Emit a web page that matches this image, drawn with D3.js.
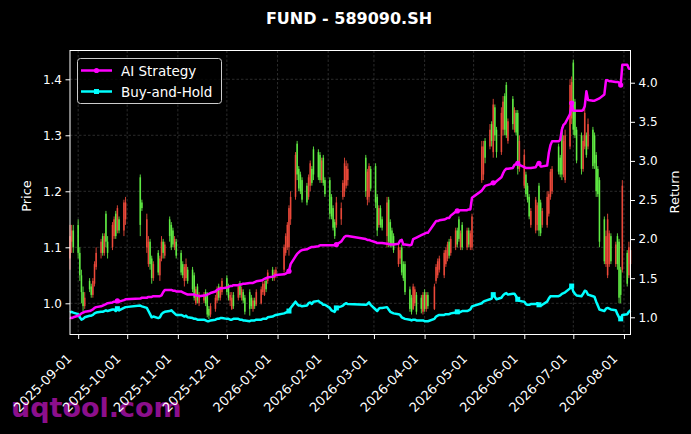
<!DOCTYPE html>
<html><head><meta charset="utf-8">
<script src="https://cdn.jsdelivr.net/npm/d3@7"></script>
<style>html,body{margin:0;padding:0;background:#000;}svg{display:block;}</style>
</head><body>
<svg id="chart" width="691" height="434"></svg>
<script>
// ---------- DATA ----------
const startDate = "2025-08-27";
const endDate = "2026-08-05";
const holidays = ["2025-10-01","2025-10-02","2025-10-03","2025-10-06","2025-10-07","2025-10-08",
  "2026-01-01","2026-01-02","2026-02-16","2026-02-17","2026-02-18","2026-02-19","2026-02-20","2026-02-23",
  "2026-04-06","2026-05-01","2026-05-04","2026-05-05","2026-06-19"];

const open = [
 1.08,1.11,1.13,
 1.14,1.09,1.05,1.02,0.995,1.04,1.03,1.015,1.035,1.065,1.09,1.12,1.09,1.16,1.11,1.10,1.12,1.16,1.13,1.15,1.13,1.15,
 1.225,1.18,1.10,1.07,1.11,1.08,1.045,1.09,1.05,1.08,1.11,1.085,1.15,1.14,1.13,1.10,1.11,
 1.09,1.07,1.04,1.045,1.06,1.06,1.05,1.00,1.03,1.00,1.005,1.02,1.015,0.99,0.98,0.99,1.005,1.03,1.01,1.02,
 1.045,1.03,1.005,0.99,1.015,1.01,1.035,1.01,1.02,1.01,1.02,1.01,0.99,1.005,0.998,1.00,1.02,1.015,1.04,1.04,1.06,1.045,1.05,
 1.06,1.09,1.10,1.10,1.15,1.19,1.285,1.24,1.23,1.22,1.21,1.19,1.21,1.24,1.275,1.27,1.265,1.22,1.26,1.22,
 1.22,1.19,1.17,1.145,1.14,1.15,1.19,1.20,1.21,1.22,1.26,1.185,1.19,1.24,
 1.245,1.19,1.14,1.17,1.15,1.12,1.185,1.145,1.13,1.12,1.07,1.08,1.10,1.07,1.07,1.025,1.01,0.99,1.00,1.015,1.01,0.985,
 1.02,0.99,1.015,0.99,1.04,1.05,1.06,1.05,1.07,1.08,1.11,1.09,1.10,1.13,1.15,1.10,1.14,1.10,1.13,1.10,1.10,
 1.22,1.23,1.29,1.28,1.32,1.27,1.35,1.31,1.27,1.31,1.37,1.39,1.29,1.365,1.31,1.34,1.34,1.24,
 1.21,1.23,1.21,1.19,1.14,1.13,1.14,1.21,1.18,1.14,1.14,1.16,1.19,1.20,1.28,1.26,1.31,1.23,1.22,1.28,1.33,
 1.43,1.36,1.31,1.30,1.24,1.28,1.30,1.28,1.31,1.30,1.265,1.24,1.22,1.15,1.07,1.05,1.07,1.12,1.07,1.12,1.11,1.06,1.06,
 1.09,1.05,1.07];
const high = [
 1.14,1.14,1.14,
 1.15,1.10,1.06,1.03,1.02,1.045,1.035,1.045,1.075,1.10,1.115,1.125,1.125,1.165,1.12,1.145,1.155,1.165,1.175,1.155,1.185,1.19,
 1.23,1.185,1.16,1.12,1.115,1.085,1.075,1.095,1.085,1.12,1.115,1.11,1.155,1.145,1.135,1.12,1.115,
 1.095,1.075,1.07,1.08,1.065,1.065,1.055,1.03,1.035,1.02,1.02,1.025,1.02,0.995,1.00,1.015,1.03,1.035,1.03,1.045,
 1.05,1.035,1.02,1.02,1.02,1.035,1.04,1.03,1.025,1.015,1.025,1.015,1.01,1.01,1.025,1.03,1.04,1.04,1.045,1.06,1.065,1.06,1.065,
 1.105,1.125,1.145,1.175,1.20,1.27,1.29,1.245,1.235,1.225,1.215,1.23,1.255,1.245,1.28,1.275,1.27,1.26,1.265,1.225,
 1.225,1.195,1.175,1.15,1.19,1.18,1.22,1.26,1.255,1.25,1.265,1.24,1.25,1.245,
 1.25,1.195,1.175,1.175,1.155,1.19,1.19,1.15,1.135,1.125,1.105,1.10,1.105,1.075,1.075,1.03,1.015,1.035,1.03,1.02,1.015,1.02,
 1.025,1.02,1.02,1.035,1.07,1.08,1.085,1.095,1.10,1.11,1.115,1.12,1.135,1.135,1.155,1.13,1.145,1.135,1.135,1.13,1.16,
 1.29,1.29,1.295,1.32,1.325,1.365,1.355,1.315,1.35,1.37,1.375,1.395,1.33,1.37,1.35,1.345,1.345,1.30,
 1.275,1.235,1.215,1.195,1.17,1.19,1.18,1.215,1.185,1.17,1.20,1.20,1.24,1.245,1.285,1.265,1.315,1.30,1.31,1.40,1.405,
 1.435,1.365,1.315,1.305,1.30,1.35,1.305,1.33,1.315,1.305,1.27,1.245,1.225,1.155,1.13,1.16,1.13,1.125,1.11,1.125,1.115,1.065,1.22,
 1.095,1.11,1.11];
const low = [
 1.06,1.09,1.09,
 1.08,1.04,1.00,0.985,0.99,1.02,1.01,1.01,1.03,1.06,1.08,1.085,1.085,1.10,1.08,1.095,1.115,1.115,1.125,1.125,1.12,1.14,
 1.12,1.165,1.09,1.065,1.06,1.035,1.04,1.05,1.04,1.075,1.08,1.08,1.11,1.095,1.10,1.095,1.08,
 1.05,1.045,1.03,1.04,1.035,1.02,1.005,0.997,1.00,0.995,1.00,0.995,0.975,0.972,0.975,0.985,1.00,1.005,1.005,1.015,
 1.015,1.005,0.995,0.988,0.99,1.005,1.01,1.005,1.00,0.98,0.978,0.99,0.985,0.99,0.995,0.998,1.015,1.013,1.02,1.035,1.04,1.04,1.045,
 1.055,1.085,1.095,1.085,1.14,1.185,1.22,1.20,1.195,1.18,1.175,1.185,1.20,1.21,1.22,1.22,1.215,1.215,1.21,1.19,
 1.15,1.15,1.13,1.115,1.135,1.14,1.185,1.19,1.205,1.21,1.19,1.175,1.18,1.20,
 1.17,1.12,1.135,1.135,1.13,1.10,1.10,1.10,1.10,1.09,1.065,1.07,1.05,1.04,1.015,0.985,0.98,0.988,0.995,0.98,0.982,0.98,
 0.985,0.985,0.99,0.988,1.035,1.045,1.055,1.045,1.065,1.075,1.08,1.085,1.095,1.10,1.11,1.095,1.095,1.095,1.10,1.095,1.095,
 1.215,1.22,1.25,1.275,1.28,1.26,1.29,1.26,1.265,1.30,1.30,1.295,1.285,1.31,1.305,1.30,1.23,1.235,
 1.205,1.19,1.18,1.15,1.135,1.125,1.13,1.12,1.12,1.135,1.135,1.155,1.185,1.195,1.23,1.225,1.22,1.225,1.215,1.275,1.32,
 1.30,1.295,1.25,1.23,1.235,1.275,1.26,1.275,1.24,1.24,1.19,1.19,1.10,1.07,1.065,1.045,1.065,1.07,1.065,1.06,1.00,1.00,1.055,
 1.03,1.045,1.065];
const close = [
 1.12,1.13,1.10,
 1.09,1.05,1.02,0.995,1.01,1.025,1.015,1.04,1.07,1.09,1.11,1.09,1.12,1.11,1.09,1.14,1.15,1.12,1.17,1.13,1.18,1.18,
 1.14,1.17,1.15,1.11,1.07,1.045,1.07,1.055,1.08,1.11,1.09,1.105,1.12,1.10,1.105,1.115,1.085,
 1.055,1.05,1.065,1.07,1.04,1.025,1.01,1.025,1.005,1.015,1.015,1.00,0.98,0.978,0.995,1.01,1.025,1.01,1.025,1.04,
 1.02,1.01,1.015,1.01,0.995,1.03,1.015,1.025,1.005,0.985,0.99,0.995,1.005,0.995,1.02,1.025,1.035,1.035,1.025,1.055,1.045,1.055,1.06,
 1.10,1.12,1.14,1.17,1.19,1.265,1.23,1.205,1.20,1.185,1.18,1.225,1.25,1.215,1.23,1.225,1.22,1.255,1.215,1.195,
 1.16,1.155,1.135,1.12,1.18,1.17,1.215,1.25,1.245,1.24,1.20,1.235,1.245,1.205,
 1.18,1.13,1.17,1.14,1.135,1.18,1.11,1.105,1.105,1.095,1.10,1.095,1.055,1.045,1.02,0.99,0.985,1.03,1.025,0.985,0.99,1.015,
 0.99,1.015,0.995,1.03,1.065,1.075,1.08,1.09,1.095,1.105,1.085,1.115,1.13,1.105,1.115,1.125,1.10,1.13,1.105,1.125,1.155,
 1.28,1.28,1.26,1.31,1.29,1.355,1.30,1.27,1.34,1.36,1.31,1.30,1.325,1.32,1.345,1.305,1.24,1.29,
 1.265,1.195,1.185,1.155,1.165,1.185,1.175,1.13,1.125,1.165,1.19,1.195,1.235,1.24,1.235,1.23,1.23,1.29,1.30,1.39,1.395,
 1.31,1.30,1.255,1.24,1.29,1.34,1.265,1.32,1.245,1.25,1.20,1.195,1.11,1.075,1.12,1.15,1.125,1.075,1.105,1.07,1.01,1.015,1.21,
 1.035,1.10,1.095];
const aiStrategy = [
 1.00,0.99,1.00,
 1.02,1.03,1.05,1.06,1.07,1.08,1.09,1.10,1.12,1.13,1.14,1.15,1.16,1.17,1.18,1.19,1.20,1.20,1.21,1.20,1.22,1.23,
 1.24,1.25,1.25,1.26,1.26,1.26,1.27,1.27,1.27,1.28,1.32,1.35,1.35,1.35,1.34,1.34,1.33,
 1.33,1.32,1.31,1.30,1.29,1.29,1.29,1.28,1.28,1.27,1.28,1.28,1.29,1.30,1.31,1.33,1.35,1.36,1.37,1.37,
 1.38,1.39,1.40,1.40,1.41,1.41,1.42,1.42,1.43,1.43,1.44,1.44,1.44,1.45,1.46,1.47,1.48,1.49,1.50,1.51,1.52,1.53,1.54,
 1.55,1.56,1.57,1.59,1.68,1.78,1.81,1.83,1.85,1.86,1.87,1.88,1.89,1.90,1.90,1.91,1.92,1.92,1.92,1.92,
 1.92,1.92,1.92,1.92,1.93,1.97,2.00,2.03,2.04,2.04,2.00,1.99,1.99,1.98,
 1.96,1.95,1.95,1.95,1.95,1.94,1.94,1.93,1.93,1.93,1.94,1.98,1.99,1.93,1.93,1.92,1.93,2.00,2.01,2.02,2.05,2.06,
 2.07,2.08,2.08,2.20,2.23,2.23,2.24,2.25,2.26,2.27,2.27,2.30,2.35,2.36,2.36,2.37,2.37,2.37,2.38,2.38,2.53,
 2.62,2.65,2.68,2.70,2.71,2.72,2.72,2.74,2.79,2.84,2.88,2.90,2.90,2.91,2.95,2.96,2.97,2.95,
 2.92,2.91,2.91,2.91,2.91,2.92,2.96,2.97,2.93,2.93,2.94,3.10,3.20,3.25,3.25,3.27,3.40,3.46,3.48,3.60,3.74,
 3.64,3.64,3.64,3.64,3.65,3.70,3.89,3.78,3.77,3.77,3.78,3.79,3.80,3.85,4.03,4.03,4.02,4.02,4.01,4.01,4.00,3.97,4.23,
 4.23,4.18,4.18];
const buyHold = [
 1.06,1.07,1.06,
 1.04,1.00,0.97,0.98,1.00,1.02,1.02,1.03,1.05,1.06,1.07,1.07,1.08,1.09,1.08,1.10,1.10,1.08,1.11,1.09,1.12,1.13,
 1.15,1.14,1.12,1.08,1.04,1.00,1.01,0.99,1.00,1.04,1.06,1.07,1.08,1.09,1.07,1.05,1.03,
 1.03,1.02,1.01,1.02,1.00,0.99,0.98,0.98,0.97,0.97,0.97,0.96,0.95,0.95,0.96,0.97,0.98,0.98,0.99,0.99,
 0.98,0.98,0.97,0.97,0.98,0.98,0.97,0.97,0.96,0.96,0.95,0.96,0.96,0.96,0.97,0.97,0.98,0.98,0.98,1.00,1.01,1.02,1.03,
 1.05,1.06,1.07,1.08,1.12,1.20,1.17,1.15,1.15,1.14,1.15,1.18,1.19,1.17,1.20,1.21,1.19,1.18,1.16,1.16,
 1.12,1.09,1.08,1.07,1.12,1.14,1.15,1.17,1.18,1.17,1.16,1.17,1.19,1.16,
 1.10,1.08,1.11,1.12,1.12,1.13,1.10,1.07,1.06,1.05,1.04,1.03,1.00,0.99,0.98,0.97,0.96,0.97,0.97,0.96,0.96,0.96,
 0.95,0.95,0.95,0.98,1.01,1.02,1.03,1.03,1.04,1.04,1.04,1.05,1.06,1.07,1.06,1.07,1.08,1.08,1.09,1.10,1.14,
 1.18,1.20,1.21,1.23,1.24,1.29,1.26,1.23,1.25,1.28,1.30,1.31,1.29,1.30,1.30,1.27,1.23,1.21,
 1.20,1.17,1.16,1.16,1.17,1.17,1.18,1.16,1.15,1.16,1.20,1.24,1.27,1.27,1.27,1.28,1.30,1.31,1.32,1.37,1.40,
 1.33,1.30,1.28,1.27,1.30,1.34,1.33,1.29,1.27,1.26,1.20,1.15,1.10,1.08,1.11,1.12,1.11,1.10,1.09,1.04,1.00,0.98,1.03,
 1.04,1.07,1.09];
const markerDates = ["2025-09-25","2026-01-08","2026-02-06","2026-04-21","2026-05-13","2026-05-28","2026-06-10","2026-06-30","2026-07-30"];
const priceTicks = [1.0,1.1,1.2,1.3,1.4];
const returnTicks = [1.0,1.5,2.0,2.5,3.0,3.5,4.0];
const dateTicks = ["2025-09-01","2025-10-01","2025-11-01","2025-12-01","2026-01-01","2026-02-01","2026-03-01","2026-04-01","2026-05-01","2026-06-01","2026-07-01","2026-08-01"];
const titleText = "FUND - 589090.SH";
const seriesNames = ["AI Strategy","Buy-and-Hold"];

// ---------- BUILD ----------
const parse = d3.utcParse("%Y-%m-%d");
const fmt = d3.utcFormat("%Y-%m-%d");
const hol = new Set(holidays);
const dates = [];
for (let d = parse(startDate); d <= parse(endDate); d = d3.utcDay.offset(d, 1)) {
  const wd = d.getUTCDay();
  if (wd === 0 || wd === 6 || hol.has(fmt(d))) continue;
  dates.push(d);
}
const n = Math.min(dates.length, open.length, high.length, low.length, close.length, aiStrategy.length, buyHold.length);
const rows = d3.range(n).map(i => ({date: dates[i], o: open[i], h: high[i], l: low[i], c: close[i], ai: aiStrategy[i], bh: buyHold[i]}));

const W = 691, H = 434;
const m = {l: 70, r: 630.5, t: 50.5, b: 334.5};
const svg = d3.select("#chart");
svg.append("rect").attr("width", W).attr("height", H).attr("fill", "#000");

const x = d3.scaleUtc().domain([rows[0].date, rows[n-1].date]).range([m.l, m.r]);
const y = d3.scaleLinear().domain([0.9443, 1.4514]).range([m.b, m.t]);
const y2 = d3.scaleLinear().domain([0.780, 4.412]).range([m.b, m.t]);

// watermark
svg.append("text").attr("x", 11).attr("y", 417).attr("font-family", "DejaVu Sans").attr("font-weight", "bold")
  .attr("font-size", 27).attr("fill", "#8c0f8c").text("uqtool.com");

// grid
const grid = svg.append("g").attr("stroke", "#888").attr("stroke-opacity", 0.45).attr("stroke-width", 0.7).attr("stroke-dasharray", "2.5,2");
grid.selectAll("line.v").data(dateTicks.map(parse)).join("line").attr("class", "v")
  .attr("x1", d => x(d)).attr("x2", d => x(d)).attr("y1", m.t).attr("y2", m.b);
grid.selectAll("line.h").data(priceTicks).join("line").attr("class", "h")
  .attr("x1", m.l).attr("x2", m.r).attr("y1", d => y(d)).attr("y2", d => y(d));

// candles
const up = "rgba(245,75,60,0.85)", dn = "rgba(100,245,70,0.85)";
const cg = svg.append("g");
cg.selectAll("line").data(rows).join("line")
  .attr("x1", d => x(d.date)).attr("x2", d => x(d.date))
  .attr("y1", d => y(d.h)).attr("y2", d => y(d.l))
  .attr("stroke", d => d.c >= d.o ? up : dn).attr("stroke-width", 1);
cg.selectAll("rect").data(rows).join("rect")
  .attr("x", d => x(d.date) - 0.8).attr("width", 1.6)
  .attr("y", d => y(Math.max(d.o, d.c))).attr("height", d => Math.max(0.5, Math.abs(y(d.o) - y(d.c))))
  .attr("fill", d => d.c >= d.o ? up : dn);

// lines
const lineAI = d3.line().x(d => x(d.date)).y(d => y2(d.ai));
const lineBH = d3.line().x(d => x(d.date)).y(d => y2(d.bh));
svg.append("path").datum(rows).attr("d", lineBH).attr("fill", "none").attr("stroke", "#00ffff").attr("stroke-width", 2.5).attr("stroke-linejoin", "round");
svg.append("path").datum(rows).attr("d", lineAI).attr("fill", "none").attr("stroke", "#ff00ff").attr("stroke-width", 2.5).attr("stroke-linejoin", "round");
const mk = new Set(markerDates);
const mrows = rows.filter(d => mk.has(fmt(d.date)));
svg.append("g").selectAll("rect").data(mrows).join("rect")
  .attr("x", d => x(d.date) - 2.5).attr("y", d => y2(d.bh) - 2.5).attr("width", 5).attr("height", 5).attr("fill", "#00ffff");
svg.append("g").selectAll("circle").data(mrows).join("circle")
  .attr("cx", d => x(d.date)).attr("cy", d => y2(d.ai)).attr("r", 2.6).attr("fill", "#ff00ff");

// frame
svg.append("rect").attr("x", m.l).attr("y", m.t).attr("width", m.r - m.l).attr("height", m.b - m.t)
  .attr("fill", "none").attr("stroke", "#fff").attr("stroke-width", 1);

// axes
const axL = svg.append("g").attr("transform", `translate(${m.l},0)`)
  .call(d3.axisLeft(y).tickValues(priceTicks).tickFormat(d3.format(".1f")).tickSize(4.5).tickPadding(3.5));
const axR = svg.append("g").attr("transform", `translate(${m.r},0)`)
  .call(d3.axisRight(y2).tickValues(returnTicks).tickFormat(d3.format(".1f")).tickSize(4.5).tickPadding(3.5));
const axB = svg.append("g").attr("transform", `translate(0,${m.b})`)
  .call(d3.axisBottom(x).tickValues(dateTicks.map(parse)).tickFormat(fmt).tickSize(4.5).tickPadding(3.5));
[axL, axR, axB].forEach(a => {
  a.select(".domain").remove();
  a.selectAll(".tick line").attr("stroke", "#fff");
  a.selectAll(".tick text").attr("fill", "#fff").attr("font-family", "DejaVu Sans").attr("font-size", 12);
});
axB.selectAll(".tick text").attr("font-size", 13)
  .attr("text-anchor", "end").attr("dy", null).attr("y", null)
  .attr("transform", "translate(-6,25) rotate(-45)");

// titles
svg.append("text").attr("x", 349).attr("y", 24).attr("text-anchor", "middle").attr("fill", "#fff")
  .attr("font-family", "DejaVu Sans").attr("font-weight", "bold").attr("font-size", 16).text(titleText);
svg.append("text").attr("transform", "translate(31,196) rotate(-90)").attr("text-anchor", "middle").attr("fill", "#fff")
  .attr("font-family", "DejaVu Sans").attr("font-size", 13).text("Price");
svg.append("text").attr("transform", "translate(679,192) rotate(-90)").attr("text-anchor", "middle").attr("fill", "#fff")
  .attr("font-family", "DejaVu Sans").attr("font-size", 13).text("Return");

// legend
const lg = svg.append("g");
lg.append("rect").attr("x", 77.5).attr("y", 58.5).attr("width", 144).attr("height", 45).attr("rx", 3)
  .attr("fill", "#000").attr("fill-opacity", 0.8).attr("stroke", "#cccccc").attr("stroke-width", 1);
const lgItems = [{name: seriesNames[0], color: "#ff00ff", y: 70.5, shape: "circle"}, {name: seriesNames[1], color: "#00ffff", y: 91.5, shape: "square"}];
lgItems.forEach(it => {
  lg.append("line").attr("x1", 81).attr("x2", 112).attr("y1", it.y).attr("y2", it.y).attr("stroke", it.color).attr("stroke-width", 2.5);
  if (it.shape === "circle") lg.append("circle").attr("cx", 96.5).attr("cy", it.y).attr("r", 2.6).attr("fill", it.color);
  else lg.append("rect").attr("x", 94).attr("y", it.y - 2.5).attr("width", 5).attr("height", 5).attr("fill", it.color);
  lg.append("text").attr("x", 121).attr("y", it.y + 5).attr("fill", "#fff").attr("font-family", "DejaVu Sans").attr("font-size", 13.5).text(it.name);
});
</script>
</body></html>
